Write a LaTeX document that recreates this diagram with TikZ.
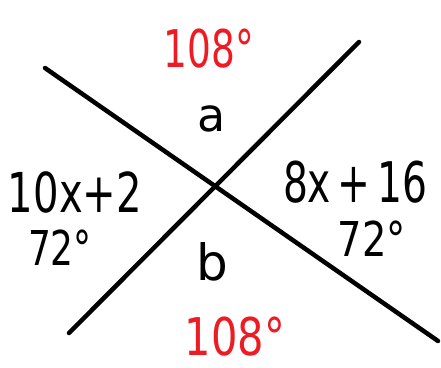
\documentclass[tikz,border=0pt]{standalone}
\usepackage{fontspec}
\setmainfont{DejaVu Sans}
\definecolor{penred}{RGB}{237,28,36}
\tikzset{
  pen/.style={line width=4.5pt,line cap=round,black},
  lbl/.style={anchor=base,inner sep=0pt,text=black},
  redlbl/.style={anchor=base,inner sep=0pt,text=penred},
}
\newcommand{\narrow}[2]{\scalebox{#1}[1]{#2}}
\begin{document}
\begin{tikzpicture}[x=1pt,y=-1pt]
\useasboundingbox (0,0) rectangle (441,367);
\coordinate (l1a) at (45,68);
\coordinate (l1b) at (438,341);
\coordinate (l2a) at (69,333);
\coordinate (l2b) at (359,42);
\draw[pen] (l1a) -- (l1b);
\draw[pen] (l2a) -- (l2b);
\node[redlbl,font=\fontsize{52}{52}\selectfont] (top) at (209,67) {\narrow{0.72}{108°}};
\node[lbl,font=\fontsize{46}{46}\selectfont] (a) at (212,131) {a};
\node[lbl,font=\fontsize{55}{55}\selectfont] (left) at (75,212) {\narrow{0.73}{10x+2}};
\node[lbl,font=\fontsize{48}{48}\selectfont] (leftdeg) at (60,265) {\narrow{0.75}{72°}};
\node[lbl,font=\fontsize{56}{56}\selectfont] (right) at (355,202) {\narrow{0.70}{8x\,+\,16}};
\node[lbl,font=\fontsize{48}{48}\selectfont] (rightdeg) at (372,256) {\narrow{0.8}{72°}};
\node[lbl,font=\fontsize{50}{50}\selectfont] (b) at (212,280) {b};
\node[redlbl,font=\fontsize{52}{52}\selectfont] (bottom) at (235,355) {\narrow{0.8}{108°}};
\end{tikzpicture}
\end{document}
